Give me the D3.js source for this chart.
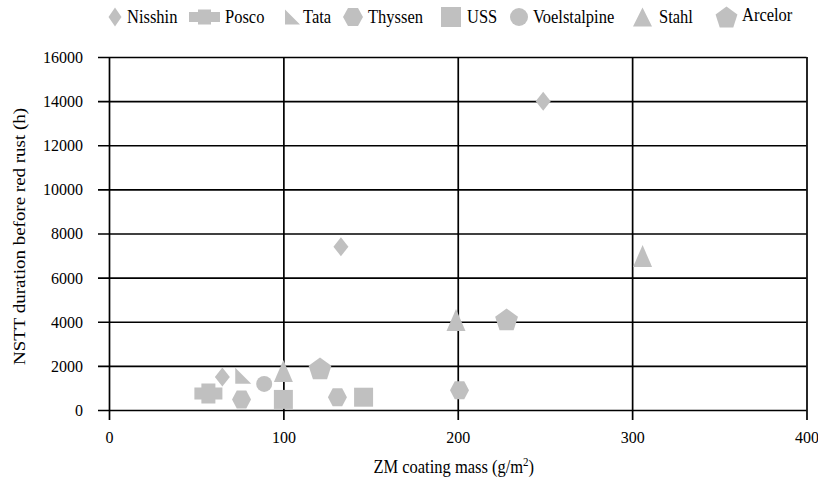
<!DOCTYPE html>
<html>
<head>
<meta charset="utf-8">
<script src="https://cdn.jsdelivr.net/npm/d3@7/dist/d3.min.js"></script>
<style>
  html, body { margin: 0; padding: 0; background: #fff; }
  svg { display: block; }
  svg text { font-family: "Liberation Serif", "Times New Roman", serif !important; fill: #000; }
</style>
</head>
<body>
<svg id="chart" width="818" height="483"></svg>
<script>
// Coating mass (g/m²) vs. NSST hours before red rust, per producer
const seriesNames = ["Nisshin", "Posco", "Tata", "Thyssen", "USS", "Voelstalpine", "Stahl", "Arcelor"];
const nisshin      = [[65, 1500], [133, 7400], [249, 14000]];
const posco        = [[57, 750]];
const tata         = [[77, 1550]];
const thyssen      = [[76, 480], [131, 580], [201, 900]];
const uss          = [[100, 480], [146, 580]];
const voelstalpine = [[89, 1180]];
const stahl        = [[100, 1770], [199, 4080], [306, 6980]];
const arcelor      = [[121, 1890], [228, 4110]];

const xTicks = [0, 100, 200, 300, 400];
const yTicks = [0, 2000, 4000, 6000, 8000, 10000, 12000, 14000, 16000];

const xTitle = "ZM coating mass (g/m";
const yTitle = "NSTT duration before red rust (h)";

// marker kind for each series, in legend order
const markerKinds = ["diamond", "cross", "rtriangle", "hexagon", "square", "circle", "triangle", "pentagon"];
const seriesData = [nisshin, posco, tata, thyssen, uss, voelstalpine, stahl, arcelor];

// legend layout: symbol centre x and label start x
const legendSymX  = [115, 204.5, 292.5, 353, 451, 519, 642.5, 726.5];
const legendTextX = [127, 225, 303, 368, 467, 533, 659, 742];

const MARK = "#c0c0c0";
const SERIF = '"Liberation Serif", "Times New Roman", serif';
const TEXT_STRETCH = 1.15;

// path generators for each marker (centred at 0,0)
function markerPath(kind, legend) {
  const p = d3.path();
  if (kind === "diamond") {
    const w = legend ? 13 : 15, h = 19;
    p.moveTo(0, -h / 2); p.lineTo(w / 2, 0); p.lineTo(0, h / 2); p.lineTo(-w / 2, 0); p.closePath();
  } else if (kind === "cross") {
    const W = legend ? 31 : 28, H = legend ? 15 : 20, bh = legend ? 10 : 12, bw = legend ? 13 : 14;
    p.moveTo(-bw / 2, -H / 2); p.lineTo(bw / 2, -H / 2); p.lineTo(bw / 2, -bh / 2);
    p.lineTo(W / 2, -bh / 2); p.lineTo(W / 2, bh / 2); p.lineTo(bw / 2, bh / 2);
    p.lineTo(bw / 2, H / 2); p.lineTo(-bw / 2, H / 2); p.lineTo(-bw / 2, bh / 2);
    p.lineTo(-W / 2, bh / 2); p.lineTo(-W / 2, -bh / 2); p.lineTo(-bw / 2, -bh / 2); p.closePath();
  } else if (kind === "rtriangle") {
    const s = legend ? 15 : 16;
    p.moveTo(-s / 2, -s / 2); p.lineTo(s / 2, s / 2); p.lineTo(-s / 2, s / 2); p.closePath();
  } else if (kind === "hexagon") {
    const w = legend ? 20 : 19, h = 18;
    p.moveTo(-w / 2, 0); p.lineTo(-w / 4, -h / 2); p.lineTo(w / 4, -h / 2);
    p.lineTo(w / 2, 0); p.lineTo(w / 4, h / 2); p.lineTo(-w / 4, h / 2); p.closePath();
  } else if (kind === "square") {
    const s = legend ? 20 : 19;
    p.rect(-s / 2, -s / 2, s, s);
  } else if (kind === "circle") {
    const r = legend ? 9 : 8;
    p.arc(0, 0, r, 0, 2 * Math.PI);
  } else if (kind === "triangle") {
    const w = 19, h = legend ? 19 : 22;
    p.moveTo(0, -h / 2); p.lineTo(w / 2, h / 2); p.lineTo(-w / 2, h / 2); p.closePath();
  } else if (kind === "pentagon") {
    const R = legend ? 11.5 : 12;
    const hgt = R * (1 + Math.cos(Math.PI / 5));
    const cy = -hgt / 2 + R;
    for (let i = 0; i < 5; i++) {
      const a = -Math.PI / 2 + i * 2 * Math.PI / 5;
      const px = R * Math.cos(a), py = cy + R * Math.sin(a);
      if (i === 0) p.moveTo(px, py); else p.lineTo(px, py);
    }
    p.closePath();
  }
  return p.toString();
}

const svg = d3.select("#chart").attr("font-family", SERIF);

const x = d3.scaleLinear().domain([0, 400]).range([109, 806.5]);
const y = d3.scaleLinear().domain([0, 16000]).range([410, 57]);

// horizontal gridlines with outward ticks
const yAxis = d3.axisLeft(y).tickValues(yTicks).tickFormat(d3.format("d")).tickSizeOuter(0);
const gy = svg.append("g").attr("transform", `translate(${x(0)},0)`).call(yAxis)
  .attr("font-family", SERIF).attr("font-size", 16);
gy.select(".domain").remove();
gy.selectAll(".tick line")
  .attr("x1", -11).attr("x2", x(400) - x(0))
  .attr("stroke", "#000").attr("stroke-width", 1.7);
gy.selectAll(".tick text")
  .attr("x", -26).attr("dy", "0.34em");

// vertical gridlines with downward ticks
const xAxis = d3.axisBottom(x).tickValues(xTicks).tickFormat(d3.format("d")).tickSizeOuter(0);
const gx = svg.append("g").attr("transform", `translate(0,${y(0)})`).call(xAxis)
  .attr("font-family", SERIF).attr("font-size", 16);
gx.select(".domain").remove();
gx.selectAll(".tick line")
  .attr("y1", y(16000) - y(0)).attr("y2", 10)
  .attr("stroke", "#000").attr("stroke-width", 1.7);
gx.selectAll(".tick text")
  .attr("y", 33).attr("dy", 0);

// markers
seriesData.forEach((pts, i) => {
  svg.append("g").selectAll("path")
    .data(pts)
    .join("path")
    .attr("d", markerPath(markerKinds[i], false))
    .attr("transform", d => `translate(${x(d[0])},${y(d[1])})`)
    .attr("fill", MARK);
});

// legend
const lg = svg.append("g");
seriesNames.forEach((name, i) => {
  lg.append("path")
    .attr("d", markerPath(markerKinds[i], true))
    .attr("transform", `translate(${legendSymX[i]},17)`)
    .attr("fill", MARK);
  lg.append("text")
    .attr("transform", `translate(${legendTextX[i]},${name === "Arcelor" ? 21 : 23}) scale(1,${TEXT_STRETCH})`)
    .attr("font-size", 16.5)
    .text(name);
});

// axis titles
const xt = svg.append("text")
  .attr("transform", `translate(${(x(0) + x(400)) / 2 - 4},473) scale(1,${TEXT_STRETCH})`)
  .attr("text-anchor", "middle")
  .attr("font-size", 16.5);
xt.append("tspan").text(xTitle);
xt.append("tspan").attr("dy", -6).attr("font-size", 11).text("2");
xt.append("tspan").attr("dy", 6).text(")");

svg.append("text")
  .attr("transform", `translate(25,${(y(0) + y(16000)) / 2 + 3}) scale(1,${TEXT_STRETCH}) rotate(-90)`)
  .attr("text-anchor", "middle")
  .attr("font-size", 16.5)
  .text(yTitle);
</script>
</body>
</html>
